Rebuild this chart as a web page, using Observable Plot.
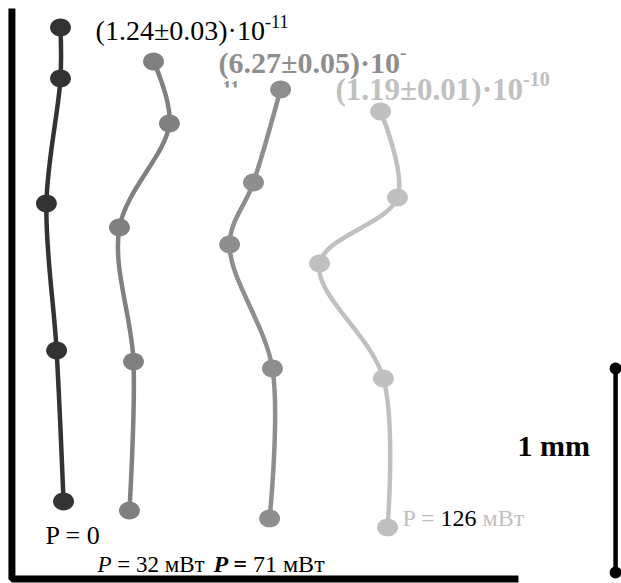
<!DOCTYPE html>
<html><head><meta charset="utf-8">
<script src="https://cdn.jsdelivr.net/npm/d3@7"></script>
<script src="https://cdn.jsdelivr.net/npm/@observablehq/plot@0.6"></script>
<style>html,body{margin:0;padding:0;background:#fff}</style>
</head><body><div id="chart"></div>
<script>
// All positions are in micrometres (the scale bar is 1000 µm = 1 mm); y grows downward.
const seriesNames = ["P = 0", "P = 32 мВт", "P = 71 мВт", "P = 126 мВт"];
const seriesColors = ["#333333", "#808080", "#8e8e8e", "#c0c0c0"];

const xP0   = [294, 294, 225, 275, 309];
const yP0   = [132, 382, 995, 1716, 2456];
const xP32  = [750, 828, 583, 652, 632];
const yP32  = [299, 603, 1113, 1770, 2500];
const xP71  = [1373, 1240, 1123, 1333, 1319];
const yP71  = [436, 892, 1196, 1804, 2539];
const xP126 = [1863, 1946, 1564, 1877, 1897];
const yP126 = [544, 966, 1289, 1853, 2583];

// frame (left and bottom border)
const frameX = [56, 56, 2539];
const frameY = [39, 2836, 2836];

// scale bar (1 mm)
const barX = [3015, 3015];
const barY = [1804, 2804];

// text labels: [x, y (baseline), segments]
const labelX = [466, 1069, 1642, 221, 475, 1044, 1971, 2534];
const labelY = [196, 353, 490, 2662, 2804, 2804, 2574, 2235];
const labelSegments = [
  [{t: "(1.24±0.03)·10"}, {t: "-11", sup: true}],
  [{t: "(6.27±0.05)·10"}, {t: "-", sup: true}],
  [{t: "(1.19±0.01)·10"}, {t: "-10", sup: true}],
  [{t: "P = 0"}],
  [{t: "P", italic: true}, {t: " = 32 мВт"}],
  [{t: "P =", italic: true, bold: true}, {t: " 71 мВт"}],
  [{t: "P = ", fill: "#c0c0c0"}, {t: "126", fill: "#000"}, {t: " мВт", fill: "#c0c0c0"}],
  [{t: "1 mm"}]
];
const labelSize   = [28, 30, 31, 26, 23, 24, 24, 30];
const labelWeight = ["normal", "bold", "bold", "normal", "normal", "normal", "normal", "bold"];
const labelColor  = ["#000", "#8e8e8e", "#c0c0c0", "#000", "#000", "#000", "#c0c0c0", "#000"];
// wrapped exponent fragment of the second label (mostly hidden)
const wrapX = [1088], wrapY = [460], wrapText = ["11"];

// ---- build tables ----
const xs = [xP0, xP32, xP71, xP126], ys = [yP0, yP32, yP71, yP126];
const points = [];
seriesNames.forEach((s, i) => xs[i].forEach((x, j) => points.push({s, x, y: ys[i][j]})));
const frame = frameX.map((x, i) => ({x, y: frameY[i]}));
const bar = barX.map((x, i) => ({x, y: barY[i]}));
const labels = labelX.map((x, i) => ({
  x, y: labelY[i], segs: labelSegments[i], size: labelSize[i], weight: labelWeight[i], color: labelColor[i],
  plain: labelSegments[i].map(d => d.t).join("")
}));
const wrap = wrapX.map((x, i) => ({x, y: wrapY[i], t: wrapText[i]}));

const ellipse = {
  draw(context, size) {
    const r = Math.sqrt(size / Math.PI);
    const rx = r * 1.1, ry = r * 0.94, k = 0.5523;
    context.moveTo(rx, 0);
    context.bezierCurveTo(rx, k * ry, k * rx, ry, 0, ry);
    context.bezierCurveTo(-k * rx, ry, -rx, k * ry, -rx, 0);
    context.bezierCurveTo(-rx, -k * ry, -k * rx, -ry, 0, -ry);
    context.bezierCurveTo(k * rx, -ry, rx, -k * ry, rx, 0);
    context.closePath();
  }
};

const textMarks = labels.map(d => Plot.text([d], {
  x: "x", y: "y", text: "plain", textAnchor: "start", lineAnchor: "bottom",
  fontSize: d.size, fontWeight: d.weight, fill: d.color
}));

const chart = Plot.plot({
  width: 621, height: 583, margin: 0,
  x: {domain: [0, 3044], range: [0, 621], axis: null},
  y: {domain: [0, 2858], range: [0, 583], axis: null},
  color: {type: "ordinal", domain: seriesNames, range: seriesColors},
  style: {fontFamily: "'Liberation Serif', 'Times New Roman', serif", background: "#fff", overflow: "visible"},
  marks: [
    Plot.line(frame, {x: "x", y: "y", stroke: "#000", strokeWidth: 7, strokeLinejoin: "miter", strokeLinecap: "butt"}),
    Plot.line(points, {x: "x", y: "y", z: "s", stroke: "s", strokeWidth: 4.5, curve: "catmull-rom"}),
    Plot.dot(points, {x: "x", y: "y", fill: "s", r: 9.5, symbol: ellipse}),
    Plot.line(bar, {x: "x", y: "y", stroke: "#000", strokeWidth: 4.5}),
    Plot.dot(bar, {x: "x", y: "y", fill: "#000", r: 6}),
    Plot.text(wrap, {x: "x", y: "y", text: "t", textAnchor: "start", lineAnchor: "bottom",
      fontSize: 18, fontWeight: "bold", fill: "#8e8e8e"}),
    ...textMarks
  ]
});

// rich text: rebuild each label with styled tspans
const NS = "http://www.w3.org/2000/svg";
const texts = Array.from(chart.querySelectorAll("text"));
labels.forEach(lab => {
  const el = texts.find(t => t.textContent === lab.plain);
  if (!el) return;
  while (el.firstChild) el.removeChild(el.firstChild);
  let raised = 0;
  lab.segs.forEach(seg => {
    const ts = document.createElementNS(NS, "tspan");
    ts.textContent = seg.t;
    if (seg.italic) ts.setAttribute("font-style", "italic");
    if (seg.bold) ts.setAttribute("font-weight", "bold");
    if (seg.fill) ts.setAttribute("fill", seg.fill);
    if (seg.sup) {
      ts.setAttribute("font-size", (lab.size * 0.65).toFixed(1));
      const d = -lab.size * 0.45;
      ts.setAttribute("dy", d.toFixed(1));
      raised += d;
    } else if (raised) {
      ts.setAttribute("dy", (-raised).toFixed(1));
      raised = 0;
    }
    el.appendChild(ts);
  });
});
// the wrapped "11" is cut off: only its top shows
const wrapEl = texts.find(t => t.textContent === "11");
if (wrapEl) {
  const defs = document.createElementNS(NS, "defs");
  const cp = document.createElementNS(NS, "clipPath");
  cp.setAttribute("id", "wrapclip");
  cp.setAttribute("clipPathUnits", "userSpaceOnUse");
  const rect = document.createElementNS(NS, "rect");
  rect.setAttribute("x", 0); rect.setAttribute("y", 0);
  rect.setAttribute("width", 621); rect.setAttribute("height", 87);
  cp.appendChild(rect); defs.appendChild(cp);
  chart.insertBefore(defs, chart.firstChild);
  wrapEl.parentNode.setAttribute("clip-path", "url(#wrapclip)");
}

document.getElementById("chart").appendChild(chart);
</script>
</body></html>
